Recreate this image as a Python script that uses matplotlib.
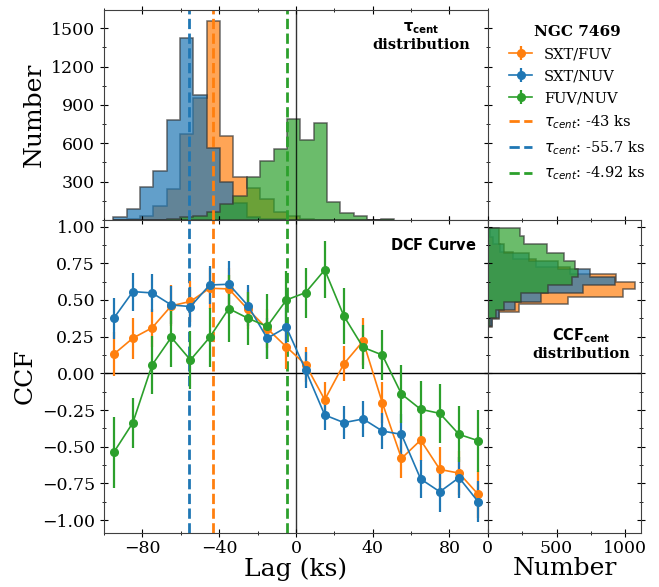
import numpy as np
import matplotlib
matplotlib.use('Agg')
import matplotlib.pyplot as plt
from matplotlib.ticker import MultipleLocator

plt.rcParams['font.family'] = 'serif'
plt.rcParams['font.serif'] = ['DejaVu Serif']

# DCF curves
lags = [-95, -85, -75, -65, -55, -45, -35, -25, -15, -5, 5, 15, 25, 35, 45, 55, 65, 75, 85, 95]
ccf_sxt_fuv = [0.13, 0.24, 0.31, 0.46, 0.49, 0.58, 0.575, 0.435, 0.305, 0.18, 0.06, -0.18, 0.065, 0.22,
               -0.20, -0.58, -0.455, -0.655, -0.68, -0.825]
err_sxt_fuv = [0.15, 0.14, 0.13, 0.14, 0.14, 0.14, 0.14, 0.13, 0.13, 0.15, 0.12, 0.12, 0.12, 0.16,
               0.14, 0.13, 0.14, 0.15, 0.15, 0.16]
ccf_sxt_nuv = [0.375, 0.557, 0.548, 0.466, 0.455, 0.602, 0.607, 0.461, 0.239, 0.314, 0.023, -0.284, -0.336,
               -0.311, -0.393, -0.416, -0.72, -0.807, -0.711, -0.875]
err_sxt_nuv = [0.14, 0.13, 0.13, 0.13, 0.13, 0.13, 0.16, 0.14, 0.14, 0.13, 0.12, 0.10, 0.11, 0.12,
               0.12, 0.14, 0.13, 0.14, 0.14, 0.14]
ccf_fuv_nuv = [-0.539, -0.336, 0.057, 0.245, 0.091, 0.245, 0.441, 0.375, 0.32, 0.50, 0.55, 0.705, 0.39, 0.177,
               0.125, -0.141, -0.245, -0.273, -0.416, -0.459]
err_fuv_nuv = [0.24, 0.17, 0.20, 0.20, 0.20, 0.20, 0.23, 0.18, 0.22, 0.20, 0.17, 0.195, 0.19, 0.15,
               0.17, 0.20, 0.19, 0.20, 0.19, 0.21]

# centroid lags
tau_sxt_fuv = -43
tau_sxt_nuv = -55.7
tau_fuv_nuv = -4.92

# tau_cent distributions (bin start, width, counts)
lag_bin_start = -95.3
lag_bin_width = 6.97
tau_hist_sxt_fuv = [0, 10, 35, 110, 240, 670, 955, 1560, 660, 335, 248, 162, 65, 31, 8, 0, 0, 0, 0, 0, 0]
tau_hist_sxt_nuv = [26, 86, 261, 386, 782, 1422, 978, 561, 300, 130, 20, 10, 5, 0, 0, 0, 0, 0, 0, 0, 0]
tau_hist_fuv_nuv = [0, 0, 0, 0, 8, 21, 34, 60, 125, 188, 339, 464, 553, 790, 626, 757, 144, 52, 34, 2, 5]

# CCF_cent distributions (ascending bins)
ccf_edges_fuv = 0.981 - 0.0511 * np.arange(13, -1, -1)
ccf_hist_sxt_fuv = [30, 85, 230, 583, 983, 1068, 935, 600, 350, 180, 90, 40, 15]
ccf_edges_nuv = 0.99 - 0.0557 * np.arange(12, -1, -1)
ccf_hist_sxt_nuv = [30, 85, 200, 390, 690, 922, 740, 510, 300, 121, 85, 85]
ccf_hist_fuv_nuv = [15, 57, 118, 240, 435, 610, 655, 633, 555, 430, 267, 235]

c_fuv, c_nuv, c_fn = 'C1', 'C0', 'C2'

fig = plt.figure(figsize=(6.59, 5.87), dpi=100)
gs = fig.add_gridspec(2, 2, width_ratios=[383.4, 153.3], height_ratios=[210, 313.3],
                      left=0.158, right=0.973, top=0.983, bottom=0.0915, wspace=0, hspace=0)
ax_top = fig.add_subplot(gs[0, 0])
ax_ccf = fig.add_subplot(gs[1, 0], sharex=ax_top)
ax_right = fig.add_subplot(gs[1, 1], sharey=ax_ccf)
ax_leg = fig.add_subplot(gs[0, 1])
ax_leg.axis('off')

# top histogram
lag_edges = lag_bin_start + lag_bin_width * np.arange(len(tau_hist_sxt_fuv) + 1)
for counts, col in [(tau_hist_sxt_fuv, c_fuv), (tau_hist_sxt_nuv, c_nuv), (tau_hist_fuv_nuv, c_fn)]:
    ax_top.hist(lag_edges[:-1], bins=lag_edges, weights=counts, histtype='stepfilled',
                color=col, alpha=0.7, ec='0.2', lw=1.1)
ax_top.axvline(0, color='k', lw=1, alpha=0.8)
for tau, col in [(tau_sxt_fuv, c_fuv), (tau_sxt_nuv, c_nuv), (tau_fuv_nuv, c_fn)]:
    ax_top.axvline(tau, color=col, ls='--', lw=2)
ax_top.set_ylim(0, 1643)
ax_top.set_yticks([300, 600, 900, 1200, 1500])
ax_top.yaxis.set_minor_locator(MultipleLocator(150))
ax_top.set_ylabel('Number', fontsize=18)
ax_top.text(0.826, 0.95, r'$\mathbf{\tau_{cent}}$' + '\ndistribution', transform=ax_top.transAxes,
            ha='center', va='top', ma='center', fontsize=10.5, fontweight='bold')

# DCF curve
ax_ccf.axvline(0, color='k', lw=1, alpha=0.8)
ax_ccf.axhline(0, color='k', lw=1)
vlines = []
for tau, col, lab in [(tau_sxt_fuv, c_fuv, '-43'), (tau_sxt_nuv, c_nuv, '-55.7'), (tau_fuv_nuv, c_fn, '-4.92')]:
    vlines.append(ax_ccf.axvline(tau, color=col, ls='--', lw=2, label=r'$\tau_{cent}$: ' + lab + ' ks'))
ebs = []
for vals, errs, col, lab in [(ccf_sxt_fuv, err_sxt_fuv, c_fuv, 'SXT/FUV'),
                             (ccf_sxt_nuv, err_sxt_nuv, c_nuv, 'SXT/NUV'),
                             (ccf_fuv_nuv, err_fuv_nuv, c_fn, 'FUV/NUV')]:
    ebs.append(ax_ccf.errorbar(lags, vals, yerr=errs, color=col, marker='o', ms=5.5, lw=1.2,
                               elinewidth=1.6, capsize=0, label=lab))
ax_ccf.set_xlim(-100, 100)
ax_ccf.set_ylim(-1.09, 1.045)
ax_ccf.xaxis.set_major_locator(MultipleLocator(40))
ax_ccf.xaxis.set_minor_locator(MultipleLocator(20))
ax_ccf.yaxis.set_major_locator(MultipleLocator(0.25))
ax_ccf.yaxis.set_minor_locator(MultipleLocator(0.125))
ax_ccf.set_xlabel('Lag (ks)', fontsize=18, labelpad=0)
ax_ccf.set_ylabel('CCF', fontsize=18)
ax_ccf.text(0.971, 0.945, r'$\mathbf{DCF\ Curve}$', transform=ax_ccf.transAxes,
            ha='right', va='top', fontsize=10.5)

# right histogram
for counts, edges, col in [(ccf_hist_sxt_fuv, ccf_edges_fuv, c_fuv),
                           (ccf_hist_sxt_nuv, ccf_edges_nuv, c_nuv),
                           (ccf_hist_fuv_nuv, ccf_edges_nuv, c_fn)]:
    ax_right.hist(edges[:-1], bins=edges, weights=counts, histtype='stepfilled',
                  orientation='horizontal', color=col, alpha=0.7, ec='0.2', lw=1.1)
ax_right.axhline(0, color='k', lw=1)
ax_right.set_xlim(0, 1116)
ax_right.xaxis.set_major_locator(MultipleLocator(500))
ax_right.xaxis.set_minor_locator(MultipleLocator(250))
ax_right.set_xlabel('Number', fontsize=18, labelpad=0)
ax_right.text(0.612, 0.66, r'$\mathbf{CCF_{cent}}$' + '\ndistribution', transform=ax_right.transAxes,
              ha='center', va='top', ma='center', fontsize=10.5, fontweight='bold')

for ax in [ax_top, ax_ccf, ax_right]:
    ax.tick_params(which='both', direction='inout', top=True, right=True, labelsize=12.5)
    ax.tick_params(which='major', length=6)
    ax.tick_params(which='minor', length=3.5)
    for sp in ax.spines.values():
        sp.set_color('0.25')
ax_top.tick_params(labelbottom=False)
ax_right.tick_params(labelleft=False)
ax_ccf.tick_params(axis='x', pad=2)
ax_right.tick_params(axis='x', pad=2)

ax_leg.legend(ebs + vlines, [e.get_label() for e in ebs + vlines], loc='upper left',
              bbox_to_anchor=(0.052, 0.99), frameon=False, fontsize=10.5, handlelength=1.6,
              labelspacing=0.55, title='NGC 7469', title_fontproperties={'weight': 'bold', 'size': 11})

fig.savefig('out.png', dpi=100)
